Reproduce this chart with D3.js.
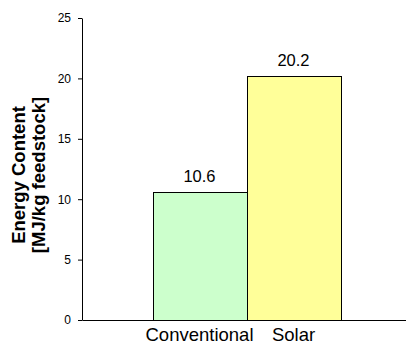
<!DOCTYPE html>
<html>
<head>
<meta charset="utf-8">
<script src="https://cdn.jsdelivr.net/npm/d3@7"></script>
<style>
  html, body { margin: 0; padding: 0; background: #fff; }
  svg { display: block; font-family: "Liberation Sans", Arial, sans-serif; }
</style>
</head>
<body>
<svg id="chart" width="406" height="344"></svg>
<script>
const categories = ["Conventional", "Solar"];
const values = [10.6, 20.2];
const valueLabels = ["10.6", "20.2"];
const barColors = ["#ccffcc", "#ffff99"];
const yTicks = [0, 5, 10, 15, 20, 25];
const yTitleLines = ["Energy Content", "[MJ/kg feedstock]"];

const svg = d3.select("#chart");
const mLeft = 82, mTop = 18, mBottom = 320;

const x = d3.scaleBand().domain(categories).range([mLeft, 411]).paddingInner(0).paddingOuter(0.75);
const y = d3.scaleLinear().domain([0, 25]).range([mBottom, mTop]);

// bars
svg.selectAll("rect.bar").data(values).enter().append("rect")
  .attr("class", "bar")
  .attr("x", (d, i) => Math.round(x(categories[i])) + 0.5)
  .attr("y", d => Math.round(y(d)) + 0.5)
  .attr("width", x.bandwidth())
  .attr("height", d => Math.round(y(0)) - Math.round(y(d)))
  .attr("fill", (d, i) => barColors[i])
  .attr("stroke", "#000")
  .attr("stroke-width", 1);

// value labels
svg.selectAll("text.val").data(values).enter().append("text")
  .attr("class", "val")
  .attr("x", (d, i) => x(categories[i]) + x.bandwidth() / 2)
  .attr("y", d => y(d) - 10)
  .attr("text-anchor", "middle")
  .attr("font-size", "16.5px")
  .attr("fill", "#000")
  .text((d, i) => valueLabels[i]);

// y axis
const yAxis = d3.axisLeft(y).tickValues(yTicks).tickSize(4).tickSizeOuter(0).tickPadding(7).tickFormat(d3.format("d"));
const gy = svg.append("g").attr("transform", `translate(${mLeft},0)`).call(yAxis);
gy.selectAll("text").attr("font-size", "12px").attr("font-family", "Liberation Sans, Arial, sans-serif").attr("fill", "#000");
gy.selectAll("line").attr("stroke", "#000");
gy.select(".domain").attr("stroke", "#000");

// x axis
const xAxis = d3.axisBottom(x).tickSize(0).tickSizeOuter(0).tickPadding(0);
const gx = svg.append("g").attr("transform", `translate(0,${mBottom})`).call(xAxis);
gx.select(".domain").attr("stroke", "#000").attr("d", `M${mLeft + 0.5},0.5H406`);
gx.selectAll("text")
  .attr("font-size", "18.5px")
  .attr("font-family", "Liberation Sans, Arial, sans-serif")
  .attr("fill", "#000")
  .attr("dy", null)
  .attr("y", 21);

// y title
const title = svg.append("text")
  .attr("transform", "translate(0,175) rotate(-90)")
  .attr("text-anchor", "middle")
  .attr("font-weight", "bold")
  .attr("font-size", "18.5px")
  .attr("fill", "#000");
title.selectAll("tspan").data(yTitleLines).enter().append("tspan")
  .attr("x", 0)
  .attr("y", (d, i) => 25 + i * 20)
  .text(d => d);
</script>
</body>
</html>
